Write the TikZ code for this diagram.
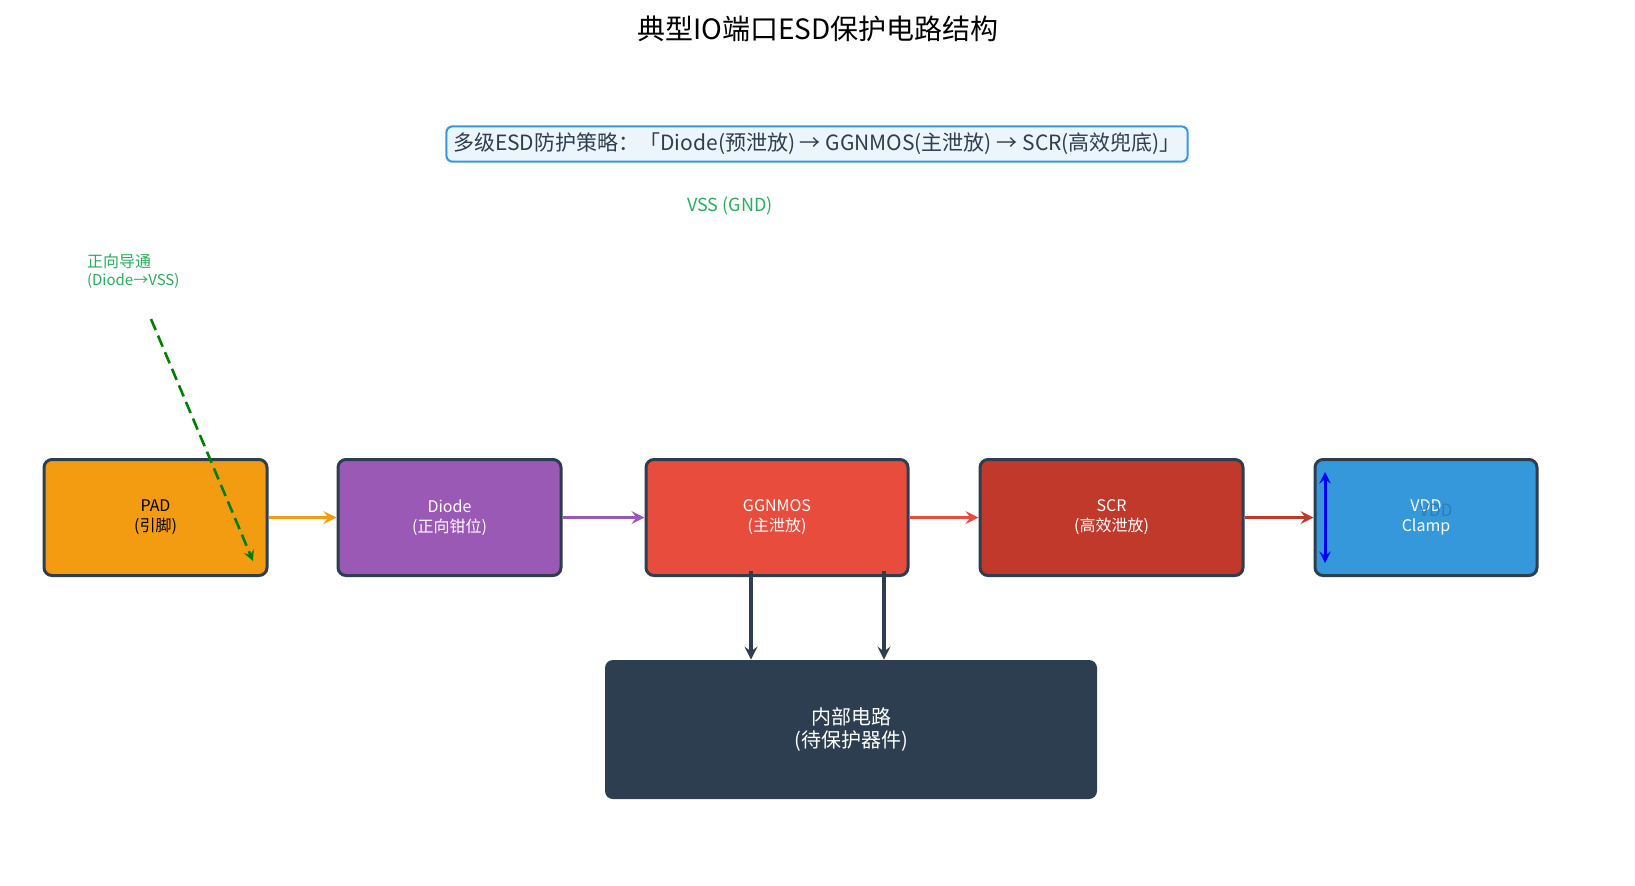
\documentclass[tikz,border=0pt]{standalone}
\usepackage{fontspec}
\setmainfont{Noto Sans CJK SC}
\usepackage{tikz}

\definecolor{padc}{HTML}{F39C12}
\definecolor{diodec}{HTML}{9B59B6}
\definecolor{ggc}{HTML}{E74C3C}
\definecolor{scrc}{HTML}{C0392B}
\definecolor{vddc}{HTML}{3498DB}
\definecolor{vddtxt}{HTML}{2980B9}
\definecolor{navy}{HTML}{2C3E50}
\definecolor{vssc}{HTML}{27AE60}
\definecolor{notec}{HTML}{EBF5FB}

\begin{document}
\begin{tikzpicture}[x=0.5pt,y=-0.5pt,
    blk/.style={draw=navy,line width=1.5pt,rounded corners=4pt,minimum height=58pt,
      align=center,font=\fontsize{8}{10}\selectfont,text=white},
    link/.style={line width=1.8pt,-stealth}]
  \useasboundingbox (0,0) rectangle (1635,885);

  \node[font=\fontsize{14}{16}\selectfont](title)at(818,29){典型IO端口ESD保护电路结构};
  \node[draw=vddc,fill=notec,line width=1pt,rounded corners=3pt,minimum width=366pt,
    minimum height=16pt,text=navy,font=\fontsize{10.5}{12}\selectfont](plan)at(817,144)
    {多级ESD防护策略：「Diode(预泄放) → GGNMOS(主泄放) → SCR(高效兜底)」};
  \node[text=vssc,font=\fontsize{9}{10}\selectfont](vss)at(730,206){VSS (GND)};
  \node[text=vssc,align=left,anchor=west,font=\fontsize{8}{9}\selectfont](fwd)at(80,271)
    {正向导通\\{\fontsize{7.5}{8}\selectfont (Diode→VSS)}};

  % protection chain
  \node[blk,fill=padc,text=black,minimum width=111.5pt](pad)at(155.5,517.5){PAD\\(引脚)};
  \node[blk,fill=diodec,minimum width=111.5pt](diode)at(449.5,517.5){Diode\\(正向钳位)};
  \node[blk,fill=ggc,minimum width=131pt](gg)at(777,517.5){GGNMOS\\(主泄放)};
  \node[blk,fill=scrc,minimum width=131.5pt](scr)at(1111.5,517.5){SCR\\(高效泄放)};
  \node[blk,fill=vddc,minimum width=111pt](clamp)at(1426,517.5){VDD\\Clamp};
  \node[text=vddtxt,font=\fontsize{8.5}{10}\selectfont](vdd)at(1436,510){VDD};
  \node[fill=navy,rounded corners=4pt,minimum width=246pt,minimum height=69.5pt,
    text=white,align=center,font=\fontsize{10}{11.5}\selectfont](core)at(851,729.5)
    {内部电路\\(待保护器件)};

  \draw[link,padc] (pad) -- (diode);
  \draw[link,diodec] (diode) -- (gg);
  \draw[link,ggc] (gg) -- (scr);
  \draw[link,scrc] (scr) -- (clamp);

  \coordinate (c1) at (751,0);
  \coordinate (c2) at (884,0);
  \draw[link,navy] ([yshift=3pt]gg.south -| c1) -- (core.north -| c1);
  \draw[link,navy] ([yshift=3pt]gg.south -| c2) -- (core.north -| c2);

  \coordinate (rt) at (1325,472);
  \coordinate (rb) at (1325,563);
  \draw[blue,line width=1.5pt,stealth-stealth] (rt) -- (rb);

  \coordinate (fs) at (151,319);
  \coordinate (fe) at (253,561);
  \draw[green!50!black,line width=1.3pt,dash pattern=on 6pt off 3pt,-stealth] (fs) -- (fe);
\end{tikzpicture}
\end{document}
